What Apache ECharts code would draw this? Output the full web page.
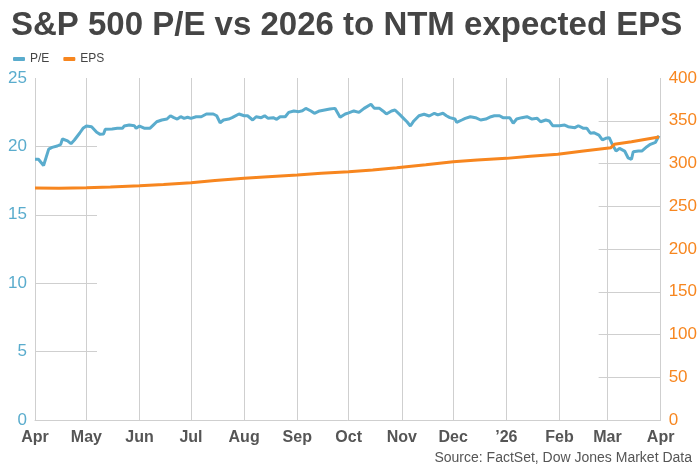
<!DOCTYPE html>
<html>
<head>
<meta charset="utf-8">
<script src="https://cdn.jsdelivr.net/npm/echarts@6/dist/echarts.min.js"></script>
<style>
html,body{margin:0;padding:0;background:#fff;}
#chart{width:700px;height:471px;}
</style>
</head>
<body>
<div id="chart"></div>
<script>
const titleText = 'S&P 500 P/E vs 2026 to NTM expected EPS';
const sourceText = 'Source: FactSet, Dow Jones Market Data';

const monthTicks = ['2025-04-01','2025-05-01','2025-06-01','2025-07-01','2025-08-01','2025-09-01','2025-10-01','2025-11-01','2025-12-01','2026-01-01','2026-02-01','2026-03-01','2026-04-01'];
const monthLabels = ['Apr','May','Jun','Jul','Aug','Sep','Oct','Nov','Dec','\u201926','Feb','Mar','Apr'];

const peTicks = [5, 10, 15, 20];
const epsTicks = [50, 100, 150, 200, 250, 300, 350];

const peDates = ['2025-04-01','2025-04-03','2025-04-06','2025-04-09','2025-04-11','2025-04-14','2025-04-16','2025-04-17','2025-04-20','2025-04-22','2025-04-24','2025-04-27','2025-04-29',
'2025-05-01','2025-05-04','2025-05-07','2025-05-09','2025-05-11','2025-05-12','2025-05-16','2025-05-19','2025-05-20','2025-05-22','2025-05-23','2025-05-26','2025-05-29','2025-05-30',
'2025-06-01','2025-06-04','2025-06-07','2025-06-09','2025-06-11','2025-06-14','2025-06-17','2025-06-19','2025-06-21','2025-06-23','2025-06-25','2025-06-27','2025-06-29',
'2025-07-01','2025-07-04','2025-07-07','2025-07-10','2025-07-14','2025-07-16','2025-07-18','2025-07-20','2025-07-23','2025-07-25','2025-07-26','2025-07-29',
'2025-08-01','2025-08-03','2025-08-06','2025-08-08','2025-08-11','2025-08-13','2025-08-15','2025-08-18','2025-08-20','2025-08-22','2025-08-25','2025-08-27','2025-08-30',
'2025-09-02','2025-09-04','2025-09-06','2025-09-09','2025-09-11','2025-09-14','2025-09-17','2025-09-20','2025-09-23','2025-09-24','2025-09-26','2025-09-29',
'2025-10-01','2025-10-04','2025-10-07','2025-10-10','2025-10-14','2025-10-16','2025-10-19','2025-10-21','2025-10-23','2025-10-26','2025-10-28','2025-10-31',
'2025-11-02','2025-11-04','2025-11-06','2025-11-08','2025-11-11','2025-11-14','2025-11-17','2025-11-20','2025-11-22','2025-11-25','2025-11-27','2025-11-29',
'2025-12-02','2025-12-03','2025-12-06','2025-12-08','2025-12-11','2025-12-14','2025-12-17','2025-12-20','2025-12-23','2025-12-25','2025-12-28','2025-12-30',
'2026-01-03','2026-01-05','2026-01-07','2026-01-10','2026-01-13','2026-01-16','2026-01-19','2026-01-21','2026-01-24','2026-01-26','2026-01-28',
'2026-02-01','2026-02-04','2026-02-06','2026-02-07','2026-02-10','2026-02-12','2026-02-15','2026-02-17','2026-02-19','2026-02-21','2026-02-24','2026-02-26','2026-02-28',
'2026-03-02','2026-03-04','2026-03-06','2026-03-08','2026-03-11','2026-03-13','2026-03-15','2026-03-16','2026-03-19','2026-03-21','2026-03-24','2026-03-26','2026-03-29','2026-03-31'];

const peValues = [19.06,19.06,18.6,19.8,19.93,20.03,20.15,20.54,20.4,20.2,20.47,20.96,21.32,
21.49,21.44,21.03,20.88,20.9,21.25,21.27,21.32,21.44,21.32,21.49,21.56,21.51,21.32,
21.49,21.32,21.32,21.56,21.8,21.93,22.0,22.24,22.1,22.0,22.17,22.05,22.13,
22.05,22.17,22.17,22.37,22.37,22.24,21.73,21.93,22.0,22.1,22.0,22.37,
22.24,22.24,21.93,22.17,22.1,22.24,22.05,22.1,21.98,22.17,22.17,22.49,22.59,
22.54,22.61,22.78,22.59,22.42,22.59,22.66,22.73,22.78,22.66,22.13,22.37,
22.45,22.59,22.49,22.78,23.08,22.78,22.78,22.59,22.37,22.59,22.66,22.3,
22.05,21.8,21.49,21.86,22.24,22.35,22.22,22.42,22.3,22.42,22.24,22.1,
22.0,21.76,21.93,22.05,22.17,22.1,21.93,22.0,22.17,22.24,22.24,22.1,
22.1,21.69,22.0,22.1,22.17,22.0,22.05,21.8,21.93,21.86,21.51,
21.51,21.56,21.44,21.56,21.37,21.51,21.32,21.32,20.96,21.0,20.83,20.47,20.59,
20.64,20.1,19.66,19.86,19.66,19.17,19.06,19.61,19.66,19.66,19.98,20.15,20.3,20.78];

const epsDates = ['2025-04-01','2025-04-15','2025-05-01','2025-05-15','2025-06-01','2025-06-15','2025-07-01','2025-07-15','2025-08-01','2025-08-15','2025-09-01','2025-09-15','2025-10-01','2025-10-15','2025-10-29','2025-11-15','2025-12-01','2025-12-15','2026-01-01','2026-01-15','2026-01-31','2026-02-15','2026-03-03','2026-03-05','2026-03-15','2026-03-31'];
const epsValues = [271.3,271.0,271.5,272.5,274.0,275.5,277.5,280.0,282.7,284.5,286.5,288.5,290.4,292.5,295.0,298.5,302.0,304.0,306.0,308.5,310.7,314.5,318.5,322.4,325.5,331.0];

function ts(s){ return new Date(+s.slice(0,4), +s.slice(5,7)-1, +s.slice(8,10)).getTime(); }
const tickTs = monthTicks.map(ts);
function labelFor(v){
  let best = 0, bd = Infinity;
  tickTs.forEach((t,i)=>{ const d = Math.abs(t - v); if (d < bd){ bd = d; best = i; } });
  return monthLabels[best];
}

const FONT = 'Liberation Sans, Arial, sans-serif';
const BLUE = '#5aaccd';
const ORANGE = '#f7861f';
const GRID = '#cfcfcf';

const chart = echarts.init(document.getElementById('chart'), null, {renderer:'canvas'});
chart.setOption({
  animation: false,
  backgroundColor: '#ffffff',
  title: {
    text: titleText, left: 6, top: 4,
    textStyle: { fontFamily: FONT, fontSize: 33, fontWeight: 'bold', color: '#454545' }
  },
  legend: {
    left: 8, top: 48, itemWidth: 12, itemHeight: 4, itemGap: 14,
    icon: 'roundRect',
    textStyle: { fontFamily: FONT, fontSize: 12, color: '#444' },
    data: ['P/E', 'EPS']
  },
  grid: { left: 35, right: 38, top: 78, bottom: 51, containLabel: false },
  xAxis: {
    type: 'value',
    min: tickTs[0], max: tickTs[tickTs.length-1],
    axisLine: { show: true, lineStyle: { color: GRID, width: 1 } },
    axisTick: { show: false, customValues: tickTs },
    splitLine: { show: true, lineStyle: { color: GRID, width: 1 } },
    axisLabel: {
      customValues: tickTs,
      formatter: v => labelFor(v),
      fontFamily: FONT, fontSize: 16, fontWeight: 'bold', color: '#555', margin: 10
    }
  },
  yAxis: [{
    type: 'value', min: 0, max: 25, interval: 5,
    axisLine: { show: false },
    axisTick: { show: true, inside: true, length: 62, customValues: peTicks, lineStyle: { color: GRID } },
    splitLine: { show: false },
    axisLabel: { fontFamily: FONT, fontSize: 17, color: BLUE, margin: 8 }
  }, {
    type: 'value', min: 0, max: 400, interval: 50,
    position: 'right',
    axisLine: { show: false },
    axisTick: { show: true, inside: true, length: 62, customValues: epsTicks, lineStyle: { color: GRID } },
    splitLine: { show: false },
    axisLabel: { fontFamily: FONT, fontSize: 17, color: ORANGE, margin: 8 }
  }],
  graphic: [{
    type: 'text', right: 8, top: 451,
    style: { text: sourceText, fontFamily: FONT, fontSize: 14, fill: '#555' }
  }],
  series: [{
    name: 'P/E', type: 'line', yAxisIndex: 0, showSymbol: false, symbol: 'none',
    lineStyle: { color: BLUE, width: 3 }, itemStyle: { color: BLUE },
    data: peDates.map((d,i)=>[ts(d), peValues[i]])
  }, {
    name: 'EPS', type: 'line', yAxisIndex: 1, showSymbol: false, symbol: 'none',
    lineStyle: { color: ORANGE, width: 3 }, itemStyle: { color: ORANGE },
    data: epsDates.map((d,i)=>[ts(d), epsValues[i]])
  }]
});
</script>
</body>
</html>
